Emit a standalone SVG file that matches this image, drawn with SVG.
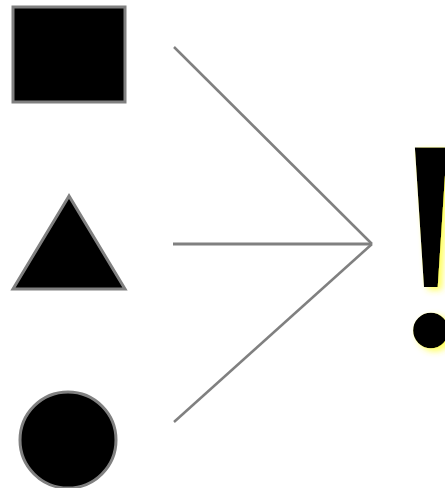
<svg xmlns="http://www.w3.org/2000/svg" width="445" height="488" viewBox="0 0 445 488">
<style>
.shape{fill:#000;stroke:#808080;stroke-width:3}
.conn{stroke:#808080;stroke-width:2.5;fill:none}
.bang{font-family:"Liberation Serif",serif;font-size:300px;fill:#000}
</style>
<defs>
<filter id="glow" x="-50%" y="-20%" width="200%" height="140%">
<feFlood flood-color="#ffff33" flood-opacity="0.8" result="f"/>
<feComposite in="f" in2="SourceAlpha" operator="in" result="c"/>
<feGaussianBlur in="c" stdDeviation="3" result="b"/>
<feOffset in="b" dx="4" dy="3" result="o"/>
<feMerge><feMergeNode in="o"/><feMergeNode in="SourceGraphic"/></feMerge>
</filter>
</defs>
<rect width="445" height="488" fill="#fff"/>
<g id="square"><rect class="shape" x="13" y="7" width="112" height="95"/></g>
<g id="triangle"><polygon class="shape" points="69,196 13,289 125,289"/></g>
<g id="circle"><circle class="shape" cx="68" cy="440" r="48"/></g>
<g id="connectors">
<line class="conn" x1="174" y1="47" x2="372" y2="244"/>
<line class="conn" x1="173" y1="244" x2="372" y2="244" style="stroke-width:3"/>
<line class="conn" x1="174" y1="422" x2="372" y2="244"/>
</g>
<g id="exclamation"><text class="bang" x="431" y="344" text-anchor="middle" filter="url(#glow)">!</text></g>
</svg>
